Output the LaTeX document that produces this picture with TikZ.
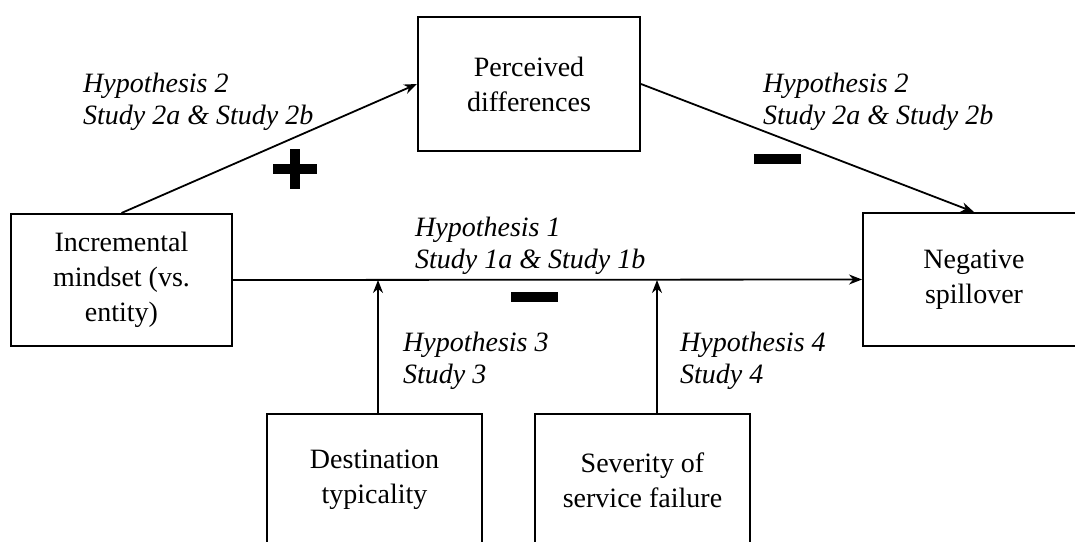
\documentclass[tikz,border=0pt]{standalone}
\usepackage{fontspec}
\setmainfont{Liberation Serif}
\usetikzlibrary{arrows.meta}
\begin{document}
\begin{tikzpicture}[x=1pt,y=-1pt,
 box/.style={draw,line width=2pt,rectangle,align=center,inner sep=0pt,font=\fontsize{28}{35}\selectfont},
 lab/.style={anchor=north west,inner sep=0pt,align=left,font=\fontsize{28}{32}\selectfont\itshape},
 conn/.style={line width=1.8pt,-{Stealth[length=13pt,width=10pt]}},
 sign/.style={fill=black,inner sep=0pt,draw=none}]
\useasboundingbox (0,0) rectangle (1075,541);
\clip (0,0) rectangle (1075,541);
\node[box,minimum width=222pt,minimum height=134pt] (per) at (529,84) {Perceived\\differences};
\node[box,minimum width=221pt,minimum height=132pt] (inc) at (121.5,280) {Incremental\\mindset (vs.\\entity)};
\node[box,minimum width=222pt,minimum height=133pt] (neg) at (974,279.5) {Negative\\spillover};
\node[box,minimum width=215pt,minimum height=133pt] (dest) at (374.5,480) {Destination\\typicality};
\node[box,minimum width=215pt,minimum height=133pt] (sev) at (642.5,480) {Severity of\\service failure};
\draw[conn] (inc.north) -- (per.west);
\draw[conn] (per.east) -- (neg.north);
\draw[conn] (inc.east) -- (neg.west);
\coordinate (j3) at (378,280);
\coordinate (j4) at (657,280);
\draw[conn] (j3 |- dest.north) -- (j3);
\draw[conn] (j4 |- sev.north) -- (j4);
\node[lab] (h2a) at (83,73) {Hypothesis 2\\Study 2a \& Study 2b};
\node[lab] (h2b) at (763,73) {Hypothesis 2\\Study 2a \& Study 2b};
\node[lab] (h1) at (415,217) {Hypothesis 1\\Study 1a \& Study 1b};
\node[lab] (h3) at (403,332) {Hypothesis 3\\Study 3};
\node[lab] (h4) at (680,332) {Hypothesis 4\\Study 4};
\node[sign,minimum width=44pt,minimum height=10pt] (plusH) at (295,169) {};
\node[sign,minimum width=10pt,minimum height=40pt] (plusV) at (295,169) {};
\node[sign,minimum width=47pt,minimum height=10pt] (min1) at (534,297) {};
\node[sign,minimum width=47pt,minimum height=10pt] (min2) at (777,159) {};
\end{tikzpicture}
\end{document}
